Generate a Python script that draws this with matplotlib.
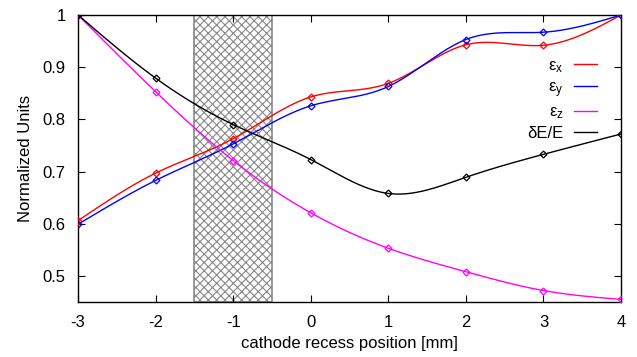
#recreates the normalized emittance / energy spread plot vs cathode recess
import numpy as np
import matplotlib
matplotlib.use("Agg")
import matplotlib.pyplot as plt

plt.rcParams['font.family'] = ['Liberation Sans', 'DejaVu Sans']
plt.rcParams['mathtext.fontset'] = 'custom'
plt.rcParams['mathtext.rm'] = 'Liberation Sans'
plt.rcParams['mathtext.it'] = 'Liberation Sans'
plt.rcParams['axes.unicode_minus'] = False
plt.rcParams['hatch.color'] = '#888888'
plt.rcParams['hatch.linewidth'] = 0.8

recess = [-3, -2, -1, 0, 1, 2, 3, 4]
eps_x = [0.606, 0.697, 0.763, 0.843, 0.869, 0.943, 0.942, 1.0]
eps_y = [0.599, 0.683, 0.753, 0.826, 0.863, 0.953, 0.967, 1.0]
eps_z = [1.0, 0.853, 0.721, 0.621, 0.553, 0.508, 0.472, 0.455]
dE_E = [1.0, 0.879, 0.790, 0.723, 0.658, 0.689, 0.733, 0.772]
band = [-1.5, -0.5]  # shaded recess range

#natural cubic spline (like gnuplot "smooth csplines")
def csplines(x, y, n=400):
	x = np.asarray(x, float)
	y = np.asarray(y, float)
	k = len(x)
	h = np.diff(x)
	A = np.zeros((k, k))
	b = np.zeros(k)
	A[0, 0] = 1
	A[-1, -1] = 1
	for i in range(1, k-1):
		A[i, i-1] = h[i-1]
		A[i, i] = 2*(h[i-1]+h[i])
		A[i, i+1] = h[i]
		b[i] = 6*((y[i+1]-y[i])/h[i] - (y[i]-y[i-1])/h[i-1])
	M = np.linalg.solve(A, b)
	xs = np.linspace(x[0], x[-1], n)
	idx = np.clip(np.searchsorted(x, xs) - 1, 0, k-2)
	x0 = x[idx]; x1 = x[idx+1]; hh = h[idx]
	ys = (M[idx]*(x1-xs)**3/(6*hh) + M[idx+1]*(xs-x0)**3/(6*hh)
		+ (y[idx]/hh - M[idx]*hh/6)*(x1-xs) + (y[idx+1]/hh - M[idx+1]*hh/6)*(xs-x0))
	return xs, ys

fig = plt.figure(figsize=(6.37, 3.57), dpi=100)
ax = fig.add_axes([0.1225, 0.154, 0.8525, 0.804])

ax.axvspan(band[0], band[1], facecolor='white', edgecolor='#888888', hatch='xxxx', lw=1.2, zorder=1)

series = [(eps_x, 'red', 'ε$_\\mathregular{x}$'),
	(eps_y, 'blue', 'ε$_\\mathregular{y}$'),
	(eps_z, 'magenta', 'ε$_\\mathregular{z}$'),
	(dE_E, 'black', 'δE/E')]

handles = []
for vals, col, lab in series:
	xs, ys = csplines(recess, vals)
	h, = ax.plot(xs, ys, color=col, lw=1.0, label=lab, zorder=3)
	ax.plot(recess, vals, ls='none', marker='D', ms=3.5, mfc='none', mec=col, mew=0.9, zorder=4)
	handles.append(h)

ax.set_xlim(-3, 4)
ax.set_ylim(0.45, 1.0)
ax.set_xticks(recess)
ax.set_yticks([0.5, 0.6, 0.7, 0.8, 0.9, 1.0])
ax.set_yticklabels(['0.5', '0.6', '0.7', '0.8', '0.9', '1'])
ax.tick_params(direction='in', top=True, right=True, length=5, labelsize=12, pad=9)
for s in ax.spines.values():
	s.set_linewidth(1.0)

ax.set_xlabel('cathode recess position [mm]', fontsize=12, labelpad=5)
ax.set_ylabel('Normalized Units', fontsize=12, labelpad=7)

ax.legend(handles=handles, loc='upper right', bbox_to_anchor=(0.983, 0.902), frameon=False,
	markerfirst=False, fontsize=12, handlelength=1.4, handletextpad=0.6, labelspacing=0.3)

fig.savefig('out.png', dpi=100)
